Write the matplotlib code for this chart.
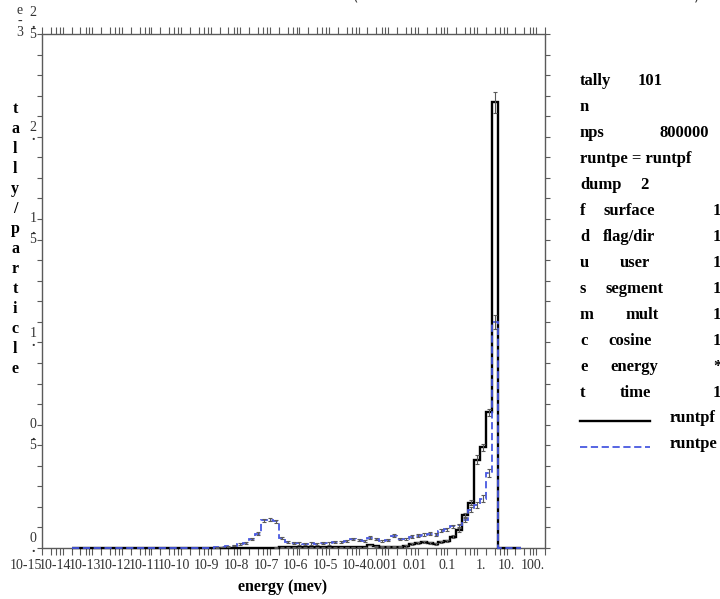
import numpy as np
import matplotlib
matplotlib.use("Agg")
import matplotlib.pyplot as plt
from matplotlib.ticker import LogLocator, FixedLocator, MultipleLocator, NullFormatter
from matplotlib.lines import Line2D
import matplotlib.transforms as mtransforms

# ---------------- data (tally/particle, units of 1e-3) ----------------
# energy bin edges: 5 bins per decade from 1e-14 to 10^1.2 MeV
bin_edge_exponents = np.linspace(-14.0, 1.2, 77)

runtpf = [0.0] * 34 + [0.002] + [0.004] * 11 + [0.005] * 4 + [
    0.015, 0.008, 0.006, 0.006, 0.007, 0.006,
    0.012, 0.020, 0.025, 0.028, 0.025, 0.020, 0.030, 0.035,
    0.055, 0.087, 0.160, 0.220, 0.430, 0.490, 0.660, 2.167,
    0.0, 0.0, 0.0, 0.0]
runtpf_err = [0.0] * 34 + [0.002] * 22 + [
    0.005, 0.005, 0.005, 0.005, 0.005, 0.005, 0.005, 0.005,
    0.006, 0.008, 0.010, 0.012, 0.020, 0.016, 0.016, 0.050,
    0.0, 0.0, 0.0, 0.0]

runtpe = [0.0] * 24 + [
    0.003, 0.005, 0.008, 0.012, 0.018, 0.025, 0.045, 0.070,
    0.135, 0.138, 0.130,
    0.048, 0.030, 0.025, 0.022, 0.020, 0.022, 0.020, 0.025, 0.022, 0.028,
    0.030, 0.035, 0.045, 0.040, 0.035, 0.050, 0.045, 0.035, 0.040, 0.060,
    0.045, 0.045, 0.055, 0.060, 0.065, 0.070, 0.065, 0.085, 0.090,
    0.105, 0.110, 0.135, 0.185, 0.210, 0.240, 0.365, 1.100,
    0.0, 0.0, 0.0, 0.0]
runtpe_err = [0.0] * 24 + [
    0.002, 0.002, 0.003, 0.003, 0.004, 0.004, 0.006, 0.008,
    0.008, 0.008, 0.008] + [0.006] * 29 + [
    0.008, 0.008, 0.010, 0.012, 0.014, 0.016, 0.020, 0.035,
    0.0, 0.0, 0.0, 0.0]

x_tick_exponents = list(range(-15, 3))
x_tick_labels = ["10-15", "10-14", "10-13", "10-12", "10-11", "10-10", "10-9",
                 "10-8", "10-7", "10-6", "10-5", "10-4", "0.001", "0.01",
                 "0.1", "1.", "10.", "100."]
y_tick_values = [0.0, 0.5, 1.0, 1.5, 2.0, 2.5]
y_tick_labels = ["0.", "0.5", "1.", "1.5", "2.", "2.5"]

info_rows = [
    ("tally", "101"),
    ("n", None),
    ("nps", "800000"),
    ("runtpe = runtpf", None),
    ("dump", "2"),
]
flag_rows = [("f", "surface", "1"), ("d", "flag/dir", "1"), ("u", "user", "1"),
             ("s", "segment", "1"), ("m", "mult", "1"), ("c", "cosine", "1"),
             ("e", "energy", "*"), ("t", "time", "1")]

# ---------------- figure ----------------
W, H = 720, 599
fig = plt.figure(figsize=(W / 100, H / 100), dpi=100)

def fx(x):
    return x / W

def fy(y):
    return 1 - y / H

ax = fig.add_axes([fx(42), fy(548), (545 - 42) / W, (548 - 34) / H])
ax.set_xscale("log")
ax.set_xlim(1e-15, 1e2)
ax.set_ylim(0, 2.5)

edges = 10.0 ** bin_edge_exponents
centers = np.sqrt(edges[:-1] * edges[1:])
BLUE = "#4858e0"
GRAY = "#5a5a5a"
TICKFONT = dict(family="Liberation Serif", fontsize=10, color="#333333")

ax.stairs(runtpf, edges, color="black", lw=1.7, baseline=0, clip_on=False, zorder=3)
ax.stairs(runtpe, edges, color=BLUE, lw=1.3, linestyle=(0, (4, 2)), baseline=0,
          clip_on=False, zorder=4)

for vals, errs in ((runtpf, runtpf_err), (runtpe, runtpe_err)):
    v = np.array(vals)
    e = np.array(errs)
    m = e > 0
    ax.errorbar(centers[m], v[m], yerr=e[m], fmt="none", ecolor=GRAY,
                elinewidth=0.8, capsize=1.5, capthick=0.8, zorder=5)

for s in ax.spines.values():
    s.set_color(GRAY)
    s.set_linewidth(1.0)

ax.xaxis.set_major_locator(FixedLocator([10.0 ** e for e in x_tick_exponents]))
ax.xaxis.set_minor_locator(LogLocator(base=10, subs=[2, 3, 4, 5], numticks=200))
ax.xaxis.set_minor_formatter(NullFormatter())
ax.set_xticklabels(x_tick_labels, ha="right", **TICKFONT)
ax.tick_params(axis="x", which="both", direction="out", top=True, length=5,
               width=0.8, color=GRAY, pad=3)
ax.yaxis.set_major_locator(MultipleLocator(0.1))
ax.set_yticklabels([])
ax.tick_params(axis="y", which="both", direction="out", right=True, length=3.5,
               width=0.8, color=GRAY)

# y tick labels written vertically (digit / point / digit), last char at the tick
base = mtransforms.blended_transform_factory(ax.transAxes, ax.transData)
for val, lab in zip(y_tick_values, y_tick_labels):
    n = len(lab)
    for j, ch in enumerate(lab):
        dy = (n - 1 - j) * 9 + (3 if (j == 0 and n == 3) else 0)
        tr = mtransforms.offset_copy(base, fig=fig, x=-9, y=dy, units="dots")
        ax.text(0, val, ch, transform=tr, ha="center", va="center",
                fontweight="bold" if ch == "." else "normal", **TICKFONT)

# exponent e-3
for ch, y in zip("e-3", (10, 21, 33)):
    fig.text(fx(20), fy(y), ch, ha="center", va="center", **TICKFONT)

# y-axis title stacked
ylab = "tally/particle"
for i, ch in enumerate(ylab):
    fig.text(fx(15), fy(109 + i * 20), ch, ha="center", va="center",
             family="Liberation Serif", fontweight="bold", fontsize=11.5)

fig.text(fx(283), fy(587), "energy (mev)", ha="center", va="center",
         family="Liberation Serif", fontweight="bold", fontsize=11.5)

# cut-off title parentheses
fig.text(fx(355), fy(-3), "(", ha="center", va="center", fontsize=10, color="#333333")
fig.text(fx(697), fy(-3), ")", ha="center", va="center", fontsize=10, color="#333333")

# info block
tk = dict(family="Liberation Serif", fontweight="bold", fontsize=12, va="center",
          ha="left")
row_y = [81, 107, 133, 159, 185]
val_x = {"tally": 638, "nps": 660, "dump": 640}
for (a, b), y in zip(info_rows, row_y):
    fig.text(fx(580), fy(y), a, **tk)
    if b is not None:
        fig.text(fx(val_x[a]), fy(y), b, **tk)

name_x = {"surface": 603, "flag/dir": 603, "user": 620, "segment": 605,
          "mult": 625, "cosine": 608, "energy": 610, "time": 620}
for i, (a, b, c) in enumerate(flag_rows):
    y = 211 + i * 26
    fig.text(fx(580), fy(y), a, **tk)
    fig.text(fx(name_x[b]), fy(y), b, **tk)
    fig.text(fx(713), fy(y), c, **tk)

fig.add_artist(Line2D([fx(580), fx(650)], [fy(421), fy(421)], color="black", lw=1.7))
fig.text(fx(670), fy(418), "runtpf", **tk)
fig.add_artist(Line2D([fx(580), fx(650)], [fy(447), fy(447)], color=BLUE, lw=1.3,
                      linestyle=(0, (4, 2))))
fig.text(fx(670), fy(444), "runtpe", **tk)

fig.savefig("out.png", dpi=100)
